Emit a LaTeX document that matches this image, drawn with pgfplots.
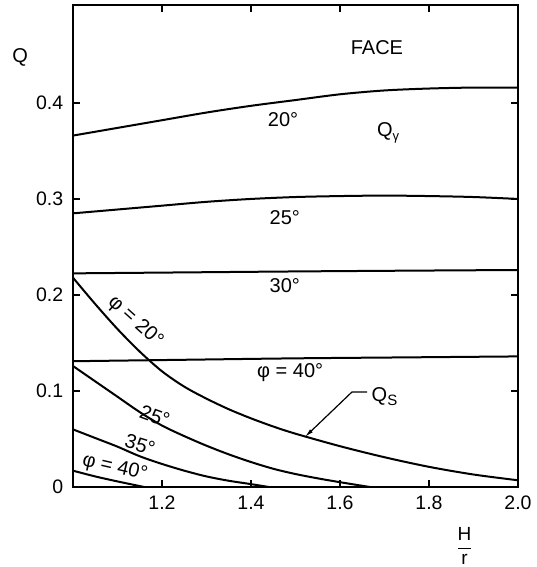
\documentclass[border=0pt]{standalone}
\usepackage{pgfplots}
\pgfplotsset{compat=1.18}
\usetikzlibrary{arrows.meta}
\usepackage{fontspec}
\setmainfont{Liberation Sans}
\begin{document}
\fontsize{20}{24}\selectfont
\begin{tikzpicture}
\begin{axis}[
 scale only axis, width=445pt, height=482pt,
 xmin=1, xmax=2, ymin=0, ymax=0.502,
 xtick={1.2,1.4,1.6,1.8,2.0},
 ytick={0,0.1,0.2,0.3,0.4},
 xticklabel style={/pgf/number format/fixed, /pgf/number format/fixed zerofill, /pgf/number format/precision=1, /pgf/number format/assume math mode=true, yshift=-2pt},
 yticklabel style={/pgf/number format/fixed, /pgf/number format/precision=1, /pgf/number format/assume math mode=true, xshift=-3pt},
 tick label style={font=\fontsize{19.5}{23}\selectfont},
 tick align=inside, major tick length=7pt,
 tick style={line width=1.3pt, black},
 axis line style={line width=1.8pt},
 clip=false,
 cycle list={{black}},
 every axis plot post/.append style={line width=2pt, black, solid, no markers, smooth},
]
% Q_gamma curves
\addplot coordinates {(1.0,0.366) (1.1,0.374) (1.2,0.382) (1.3,0.390) (1.4,0.397) (1.5,0.403) (1.6,0.409) (1.7,0.413) (1.8,0.415) (1.9,0.416) (2.0,0.416)};
\addplot coordinates {(1.0,0.285) (1.1,0.289) (1.2,0.293) (1.3,0.297) (1.4,0.300) (1.5,0.302) (1.6,0.303) (1.7,0.3035) (1.8,0.303) (1.9,0.302) (2.0,0.300)};
\addplot coordinates {(1.0,0.2225) (1.25,0.2235) (1.5,0.2245) (1.75,0.2253) (2.0,0.226)};
\addplot coordinates {(1.0,0.131) (1.25,0.1325) (1.5,0.134) (1.75,0.135) (2.0,0.136)};
% Q_s curves
\addplot coordinates {(1.0,0.218) (1.05,0.1905) (1.1,0.1645) (1.15,0.141) (1.2,0.1205) (1.25,0.1045) (1.3,0.092) (1.35,0.081) (1.4,0.0715) (1.45,0.063) (1.5,0.0555) (1.6,0.0425) (1.7,0.031) (1.8,0.021) (1.9,0.013) (2.0,0.007)};
\addplot coordinates {(1.0,0.126) (1.05,0.110) (1.1,0.094) (1.15,0.078) (1.2,0.064) (1.25,0.053) (1.3,0.043) (1.35,0.034) (1.4,0.026) (1.45,0.019) (1.5,0.0135) (1.55,0.009) (1.6,0.005) (1.667,0.0)};
\addplot coordinates {(1.0,0.060) (1.05,0.051) (1.1,0.042) (1.15,0.032) (1.2,0.024) (1.25,0.017) (1.3,0.011) (1.35,0.0065) (1.4,0.003) (1.44,0.0)};
\addplot coordinates {(1.0,0.017) (1.05,0.011) (1.1,0.0058) (1.16,0.0)};
% labels
\node at (axis cs:0.881,0.447) {Q};
\node[inner sep=0pt, font=\fontsize{19}{22}\selectfont] at (axis cs:1.88,-0.0615) {$\displaystyle\frac{\hbox{H}}{\hbox{r}}$};
\node at (axis cs:1.683,0.458) {FACE};
\node at (axis cs:1.472,0.383) {20°};
\node at (axis cs:1.708,0.369) {Q\raisebox{-0.4ex}{\fontsize{13}{15}\selectfont γ}};
\node at (axis cs:1.476,0.281) {25°};
\node at (axis cs:1.476,0.210) {30°};
\node at (axis cs:1.488,0.119) {φ = 40°};
\node at (axis cs:1.700,0.094) {Q\raisebox{-0.35ex}{\fontsize{15}{17}\selectfont S}};
\draw[line width=1.2pt, -{Latex[length=9pt,width=4pt]}] (axis cs:1.661,0.099) -- (axis cs:1.627,0.099) -- (axis cs:1.521,0.052);
\node[rotate=-42] at (axis cs:1.140,0.172) {φ = 20°};
\node[rotate=-20] at (axis cs:1.184,0.074) {25°};
\node[rotate=-17] at (axis cs:1.151,0.044) {35°};
\node[rotate=-13] at (axis cs:1.094,0.020) {φ = 40°};
\end{axis}
\pgfresetboundingbox
\path (-73pt,-80pt) rectangle (463pt,487pt);
\end{tikzpicture}
\end{document}
